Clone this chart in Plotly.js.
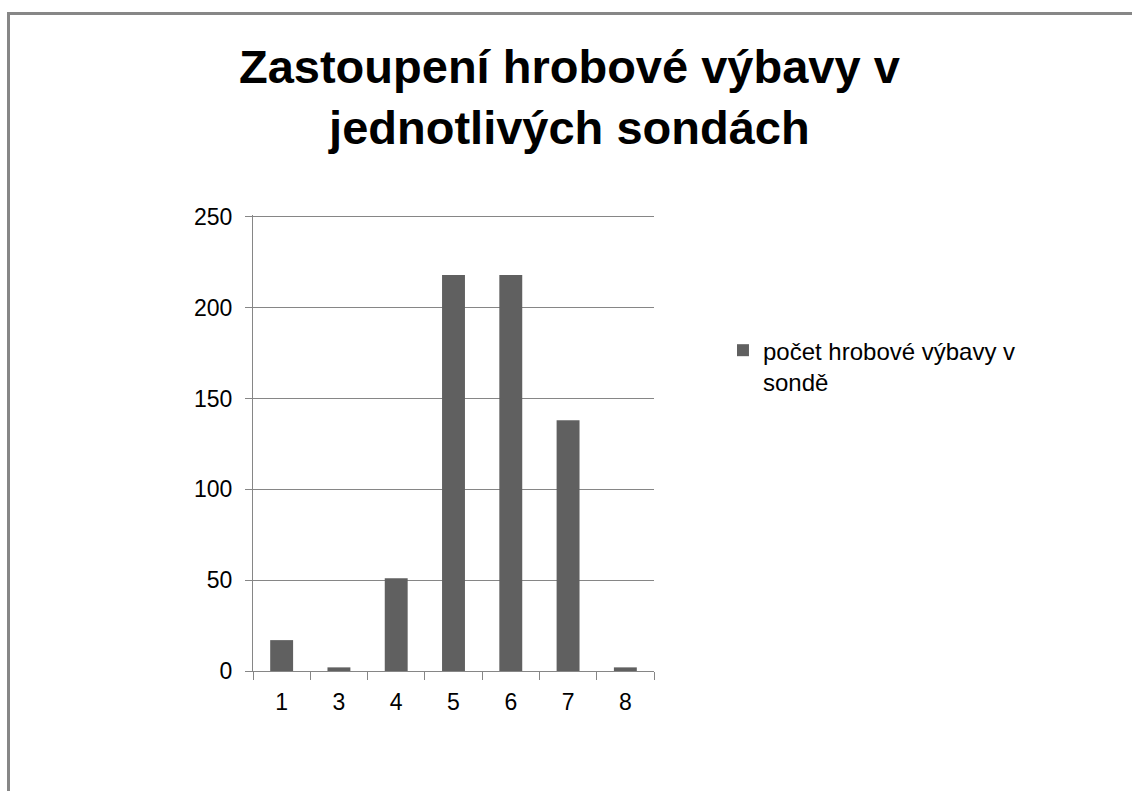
<!DOCTYPE html>
<html>
<head>
<meta charset="utf-8">
<script src="https://cdn.plot.ly/plotly-3.0.1.min.js"></script>
<style>
  html, body { margin: 0; padding: 0; background: #ffffff; }
  #wrap { position: relative; width: 1132px; height: 791px; overflow: hidden; }
  #frame { position: absolute; left: 7px; top: 12px; width: 1200px; height: 900px;
           border-top: 3px solid #878787; border-left: 3px solid #878787; pointer-events: none; }
  #chart { position: absolute; left: 0; top: 0; width: 1132px; height: 791px; }
</style>
</head>
<body>
<div id="wrap">
  <div id="chart"></div>
  <div id="frame"></div>
</div>
<script>
const categories = ["1", "3", "4", "5", "6", "7", "8"];
const values = [17, 2, 51, 218, 218, 138, 2];
const seriesName = "počet hrobové výbavy v<br>sondě";
const titleText = "Zastoupení hrobové výbavy v<br>jednotlivých sondách";
const yTicks = [0, 50, 100, 150, 200, 250];

const trace = {
  type: "bar",
  x: categories,
  y: values,
  name: seriesName,
  marker: { color: "#606060" },
  showlegend: true,
  hoverinfo: "x+y"
};

const layout = {
  width: 1132,
  height: 791,
  paper_bgcolor: "rgba(0,0,0,0)",
  plot_bgcolor: "#ffffff",
  margin: { l: 253, r: 478, t: 215, b: 120, pad: 0 },
  font: { family: "Liberation Sans, Arial, sans-serif", color: "#000000" },
  title: {
    text: titleText,
    font: { family: "Liberation Sans, Arial, sans-serif", size: 47, color: "#000000", weight: "bold" },
    xref: "container", yref: "container",
    x: 0.503, xanchor: "center",
    y: 1 - 83 / 791, yanchor: "top"
  },
  bargap: 0.6,
  xaxis: {
    type: "category",
    showline: true, linecolor: "#868686", linewidth: 1,
    ticks: "outside", tickson: "boundaries", ticklen: 8, tickcolor: "#868686", tickwidth: 1,
    showgrid: false,
    tickfont: { size: 23, color: "#000000" },
    ticklabelstandoff: 10
  },
  yaxis: {
    range: [0, 251],
    tickvals: yTicks,
    showline: true, linecolor: "#868686", linewidth: 1,
    ticks: "outside", ticklen: 7, tickcolor: "#868686", tickwidth: 1,
    showgrid: true, gridcolor: "#868686", gridwidth: 1,
    zeroline: false,
    tickfont: { size: 23, color: "#000000" },
    ticklabelstandoff: 8
  },
  showlegend: true,
  legend: {
    x: 1.172, xanchor: "left",
    y: 0.752, yanchor: "top",
    valign: "top",
    font: { size: 24, color: "#000000" },
    bgcolor: "rgba(0,0,0,0)",
    borderwidth: 0,
    itemwidth: 30
  }
};

Plotly.newPlot("chart", [trace], layout, { displayModeBar: false, staticPlot: true });
</script>
</body>
</html>
